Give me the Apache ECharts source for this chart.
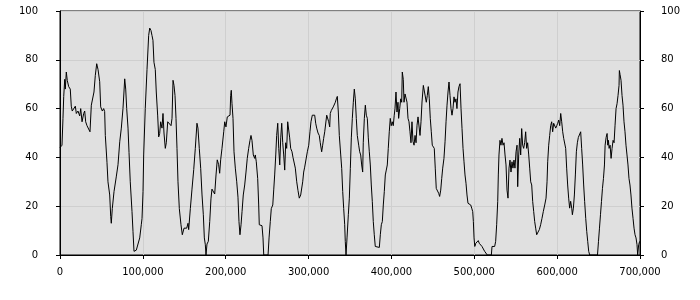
<!DOCTYPE html>
<html>
<head>
<meta charset="utf-8">
<script src="https://cdn.jsdelivr.net/npm/echarts@6/dist/echarts.min.js"></script>
<style>
html,body{margin:0;padding:0;background:#fff;}
#chart{width:700px;height:300px;}
</style>
</head>
<body>
<div id="chart"></div>
<script>
const xTicks = [0, 100000, 200000, 300000, 400000, 500000, 600000, 700000];
const yTicks = [0, 20, 40, 60, 80, 100];

const xs = [0,800,2400,3600,4500,5700,6400,7600,8800,10500,12400,13600,14800,16900,18500,19700,21700,23800,25000,26600,28600,29800,31000,32600,34600,36200,37800,39500,41000,42600,44300,45900,47900,49100,51100,52700,53900,54700,56700,57900,60000,61200,61900,63100,65200,67900,70000,72100,74000,76000,77200,78100,79300,80500,82100,83300,84800,86900,88100,89300,92100,94100,96200,98100,99000,100200,101000,102900,105000,107000,108300,109800,111000,112200,113400,115000,116200,117900,119100,120300,121500,123100,124300,125500,127100,128300,130000,131900,134000,135200,136400,137600,138800,140000,141200,142400,144000,146000,147600,149700,151200,152900,154500,155300,157300,159300,161400,163300,165300,166500,168100,169800,171400,173000,174200,175400,176200,177400,179000,180700,182200,183400,185500,186700,188300,189800,191500,192700,193900,195500,197600,198800,200300,201900,203600,205200,206000,206700,207600,208800,210000,211600,213300,214800,216000,217200,218500,219700,221200,222900,224500,226000,227700,229300,230500,231700,233300,235000,235700,236900,238600,239800,240500,242600,243800,245000,245900,251100,252300,253800,255000,256800,258000,259100,260400,261500,262800,264000,265200,266400,267600,268800,270000,271200,272400,273600,274800,276000,277200,278400,280000,281200,282400,284000,285700,287200,288800,290500,291700,292900,294100,295300,296900,298500,300200,301700,302900,304500,305700,307400,308600,309800,311400,312900,314100,315800,317000,318200,319500,320700,321900,323100,324300,325500,326200,327400,328600,329800,331100,332300,333500,334700,335900,337100,338800,340000,341200,342400,343600,344300,345200,346400,348000,349200,350400,351600,352800,354000,355200,356400,357600,358800,360500,361700,362900,364100,365300,366000,367300,368500,369700,370900,372100,373300,374500,375700,376900,378100,379300,380500,382200,385400,386600,387800,389000,390200,391400,392600,393800,395000,396200,397400,398600,399800,401000,402200,403400,404300,405500,406700,407900,408700,410000,411200,412400,413100,414300,415200,416400,417600,418800,420000,421200,422400,423600,424800,426000,427300,428500,429700,430900,432100,433300,434500,435700,436900,438500,439700,440900,442100,443300,444500,445700,446900,448100,449300,450500,451700,452900,454100,455800,457000,458200,459500,460700,461900,463400,464700,465900,467100,468300,469500,470700,471900,473100,474300,475500,476700,477900,479100,480300,481500,482800,484000,485200,486400,487600,488800,490000,491200,492400,494000,495700,496900,498100,498900,499700,500600,501800,503300,504800,506000,507700,509300,511300,512500,514100,515700,520600,521400,523000,524600,525800,527000,528300,529000,529800,531000,532200,533400,534700,535900,537100,538300,539500,540700,541900,543100,544300,545500,546700,547900,549100,550400,551600,552400,553600,554800,556000,557200,558400,559600,560800,562000,563200,564400,565700,566900,568100,569300,570500,571700,572900,574100,575300,576900,578500,580100,581700,583300,585000,586600,587800,588600,589800,591000,592200,593400,594600,595800,597100,598300,599500,600700,601900,603100,604300,605500,606700,607900,609100,610300,611500,612700,613900,615100,616300,617600,618400,619600,620800,622000,623200,624400,625600,627200,628400,629600,630800,632000,633200,634500,635700,636900,638100,639300,648700,649900,651100,652300,653500,654700,655900,657100,657900,659100,660300,661100,661900,662700,663900,665100,666300,667500,668700,669900,671100,672300,673500,674700,675100,675900,677100,678300,679500,680700,681900,683100,684300,685500,686700,687900,689100,690300,691600,692800,694000,695200,696400,697200,698400,699600];

const ys = [44,44,45,56,65,72,68,75,71.5,69,68,61,59,59.5,61,58,59,57,60,54.6,58,59,54.6,53,53,50.5,61.4,62,66.8,73.6,78.4,76,71,60.7,59,60,58.8,49,38,30,24.6,15.8,13,19,26,32,37,46.4,52,60,66.8,72.2,68,60,52,42,30,17.8,9.7,1.5,2,1.5,7,12.4,15,26,41,60,76,90,93,92,90,88,79,76,66.8,57,48.4,49.8,54.6,52,58,50,43.7,46,54.6,54,53,56,71.6,69.5,65.4,56,43.7,30,19,12.4,8.3,11,10.4,11,13,10.4,19,27,35,43.7,54,52,43.7,35.5,24.6,16.5,7,4.2,0,4.5,5.6,13.7,23,27,26.5,25,32.8,39,37,33.5,39,43.7,50.5,54.6,52.5,56.6,57,57.3,65.4,67.5,62,56,42.3,35.6,30,23.7,13.7,8.3,12.4,17.8,24.6,28.7,34,39.6,43.7,47,49,47,41,39.6,41,38.2,31.3,20.5,12.4,12.4,12,7,0,0,7,13.7,19,20.5,27,32.8,41,49,54,43.7,36.9,48,54,46,41,34.8,46,43.7,54.6,54,48,43.7,42.3,40,39.6,35.6,30,26.5,23.3,24.6,24,30,34,36,35.6,42.3,45,50.5,54.6,57.3,56.6,57.3,54,52,50,49,46,42.3,45,47.8,50.5,50,57.3,56.6,54.6,52.5,58,59.2,58.6,60.7,60,62.6,64,65,58.6,49,41,35.5,26,19,12.4,5.6,0,7,16.5,23.3,35.5,48,56,62.6,68,64,56,49,45,42.3,41,36.9,34,46,56,61.4,57.3,56,48,42.3,36.9,28.7,22,13.7,8.3,3.5,3.1,3.1,8.3,12.4,13.7,20.5,26,32.8,34.8,36.9,43.7,50.5,56,53,54.6,53,57.3,60,66.8,58.6,62.6,56,60,64,62.6,75,72,62.6,66,65.4,62.6,56,54.6,50.5,46,54.6,46.6,45,49,46,53.2,56.6,56,49,54.6,62.7,69.5,70,69,62.6,65.4,69,64,56,50.5,45,44.4,43.7,35.6,27.3,26.6,25.3,24,26.6,31.4,35.6,39.6,46.4,54.6,61.4,66.8,70.9,65.4,60,57.3,60,64.8,62.6,64,60,66.8,69,70.2,60,51.8,43.7,38.2,32.8,29.4,24.6,21.2,21.2,20.5,19.2,17.8,13.7,7,3.5,4.8,5.6,5.9,4.8,4.2,3.5,2.9,1.5,0.8,0,0,3.5,4,3.5,5.6,12.4,22,32.8,41,47,45,47.8,45,46,41,36.9,26.6,23.3,35.6,38.9,34,38.2,35.6,38.9,35.6,42.3,45,28,41,47.8,41,51.8,45,43.7,46,50.5,43.7,46,41,35.6,30,28.7,21.9,17.8,13.7,11,8.3,9,10.4,12.4,15,17.8,20.5,23.3,30,38.2,45,49,53,54.6,50.5,54,54.6,52,53,54,55.3,53,58,54.6,50.5,47.8,47,43.7,35.6,28.7,23.3,19.2,22,19.2,16.5,19.2,24.6,32.8,42.3,46,48.2,49,50.5,43.7,36.9,28.7,21.9,15,9.7,5.6,1.5,0,0,5.6,11,16.5,21.9,27.3,31.4,36.9,45,48.2,49.8,45,47,43.7,45,39.6,43.7,47,46,53.2,60,62,65.4,69.5,75.6,74,71.6,65.4,61.4,54.6,50.5,45,41,36.9,31.4,28.7,24.6,19.2,15,11,8.3,7,4.2,0,4.2,5.6];

const seriesData = xs.map((x, i) => [x, ys[i]]);

const chart = echarts.init(document.getElementById('chart'), null, {renderer: 'canvas'});
const labelFont = {color: '#000', fontSize: 10, fontFamily: 'DejaVu Sans'};
const yAxisBase = {
  type: 'value', min: yTicks[0], max: yTicks[yTicks.length - 1], interval: 20,
  axisLine: {show: true, lineStyle: {color: '#000', width: 1}},
  axisTick: {show: true, length: 4, lineStyle: {color: '#000'}},
};
chart.setOption({
  animation: false,
  backgroundColor: '#ffffff',
  grid: {left: 60, right: 60, top: 11, bottom: 45, show: true, backgroundColor: '#e0e0e0', borderColor: '#000', borderWidth: 1},
  xAxis: {
    type: 'value', min: xTicks[0], max: xTicks[xTicks.length - 1], interval: 100000,
    axisLine: {show: true, onZero: false, lineStyle: {color: '#000', width: 1}},
    axisTick: {show: true, length: 4, lineStyle: {color: '#000'}},
    axisLabel: Object.assign({margin: 12, showMinLabel: true, showMaxLabel: true}, labelFont),
    splitLine: {show: true, lineStyle: {color: '#cfcfcf', width: 1}}
  },
  yAxis: [
    Object.assign({}, yAxisBase, {
      position: 'left',
      axisLabel: Object.assign({margin: 22}, labelFont),
      splitLine: {show: true, lineStyle: {color: '#cfcfcf', width: 1}}
    }),
    Object.assign({}, yAxisBase, {
      position: 'right',
      axisLabel: Object.assign({margin: 21}, labelFont),
      splitLine: {show: false}
    })
  ],
  series: [{
    type: 'line', yAxisIndex: 0, data: seriesData, showSymbol: false, symbol: 'none',
    lineStyle: {color: '#000', width: 1}, silent: true
  }]
});
</script>
</body>
</html>
